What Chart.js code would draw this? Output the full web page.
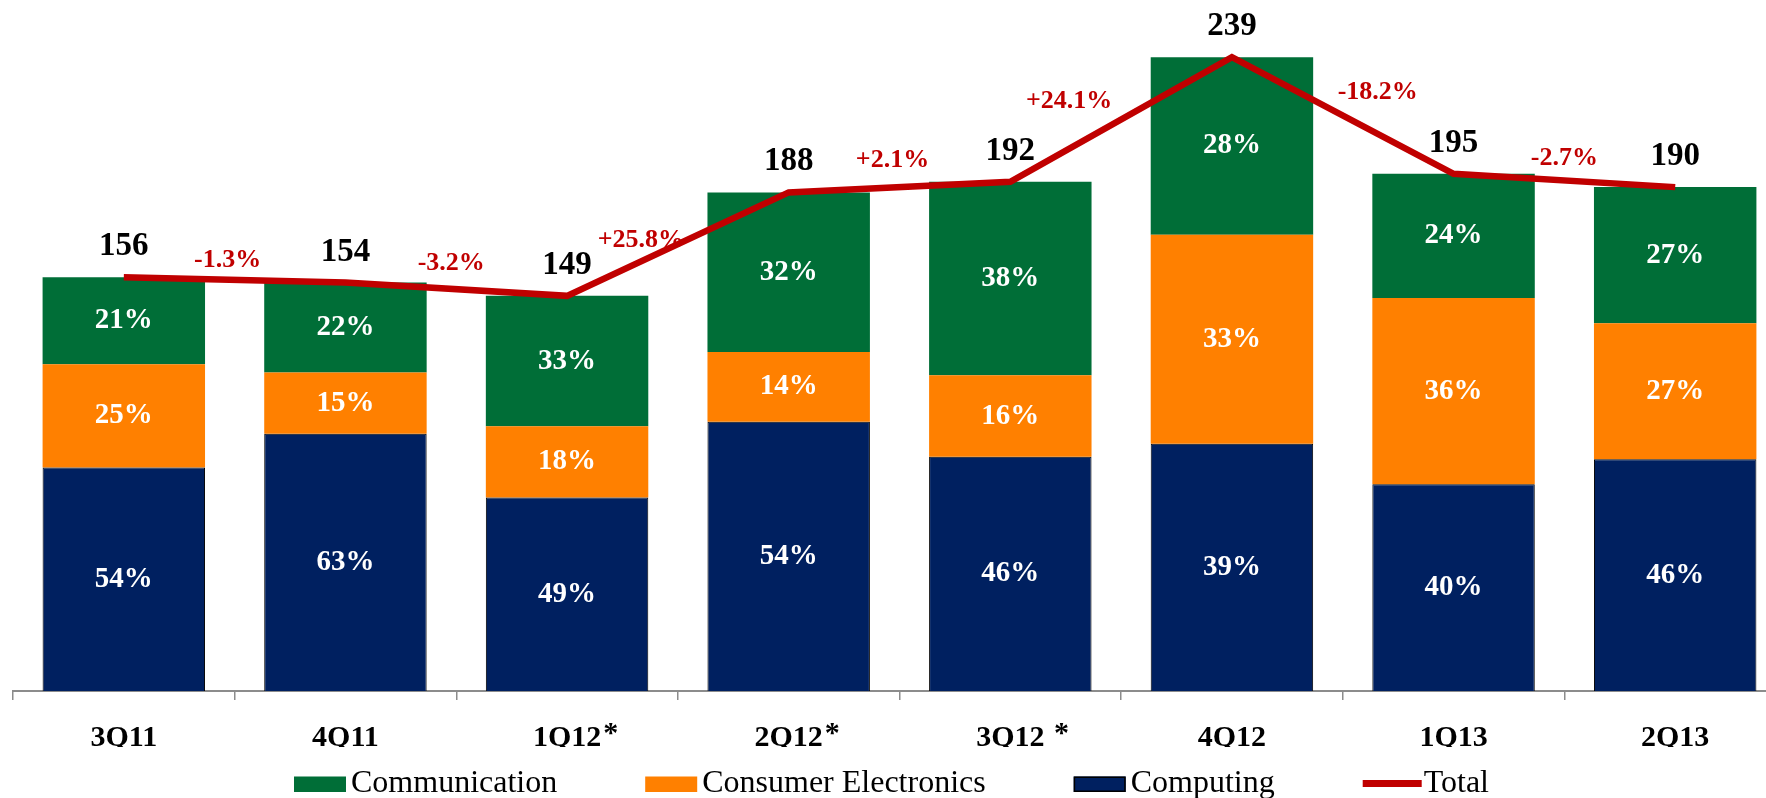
<!DOCTYPE html>
<html>
<head>
<meta charset="utf-8">
<script src="https://cdn.jsdelivr.net/npm/chart.js@4.4.0/dist/chart.umd.min.js"></script>
<style>
html,body{margin:0;padding:0;background:#fff;overflow:hidden;}
#caja{width:1790px;height:798px;}
</style>
</head>
<body>
<div id="caja"><canvas id="myChart" width="1790" height="798"></canvas></div>
<script>

var trimestres = ['3Q11','4Q11','1Q12','2Q12','3Q12','4Q12','1Q13','2Q13'];
var notas = ['','','*','*',' *','','',''];
var totales = [156,154,149,188,192,239,195,190];
var pctComunicacion = [21,22,33,32,38,28,24,27];
var pctConsumo = [25,15,18,14,16,33,36,27];
var pctComputo = [54,63,49,54,46,39,40,46];
var variaciones = ['-1.3%','-3.2%','+25.8%','+2.1%','+24.1%','-18.2%','-2.7%'];

// desplazamiento de las etiquetas rojas respecto al punto medio de cada tramo
var posVariacion = [[-7,-13],[-5,-19],[-37,3],[-7,-20],[-52,-11],[35,-17],[0,-15]];

var verde = '#006E37';
var naranja = '#FF8000';
var azul = '#002060';
var rojo = '#C00000';
var fuente = '"Liberation Serif", "Times New Roman", serif';

function porcion(pct){
    var r = [];
    for(var i=0;i<totales.length;i++){
        r.push(totales[i]*pct[i]/100);
    }
    return r;
}

var etiquetas = {
    id: 'etiquetas',
    afterDraw: function(chart){
        var ctx = chart.ctx;
        var i;
        ctx.save();

        // porcentajes dentro de las barras
        ctx.font = 'bold 29px ' + fuente;
        ctx.fillStyle = '#fff';
        ctx.textAlign = 'center';
        ctx.textBaseline = 'middle';
        var listas = [pctComputo, pctConsumo, pctComunicacion];
        for(var d=0; d<3; d++){
            chart.getDatasetMeta(d).data.forEach(function(bar, j){
                var p = bar.getProps(['x','y','base'], true);
                ctx.fillText(listas[d][j] + '%', p.x, (p.y + p.base)/2);
            });
        }

        // totales
        var linea = chart.getDatasetMeta(3).data;
        ctx.font = 'bold 33px ' + fuente;
        ctx.fillStyle = '#000';
        ctx.textBaseline = 'alphabetic';
        linea.forEach(function(pt, j){
            ctx.fillText(totales[j], pt.x, pt.y - 22);
        });

        // variaciones
        ctx.font = 'bold 26px ' + fuente;
        ctx.fillStyle = rojo;
        for(i=0;i<variaciones.length;i++){
            var a = linea[i], b = linea[i+1];
            ctx.fillText(variaciones[i], (a.x+b.x)/2 + posVariacion[i][0], (a.y+b.y)/2 + posVariacion[i][1]);
        }

        // asteriscos junto a las etiquetas del eje
        var ejeX = chart.scales.x;
        var base = chart.chartArea.bottom + 56;
        ctx.font = 'bold 30px ' + fuente;
        ctx.fillStyle = '#000';
        ctx.textAlign = 'left';
        for(i=0;i<trimestres.length;i++){
            if(notas[i]){
                var w = ctx.measureText(trimestres[i]).width;
                ctx.fillText(notas[i], ejeX.getPixelForValue(i) + w/2 + 2, base - 5);
            }
        }

        // leyenda
        var items = [
            {texto:'Communication', color:verde, tipo:'caja'},
            {texto:'Consumer Electronics', color:naranja, tipo:'caja'},
            {texto:'Computing', color:azul, tipo:'caja', borde:'#000'},
            {texto:'Total', color:rojo, tipo:'linea'}
        ];
        ctx.font = '32px ' + fuente;
        ctx.textBaseline = 'alphabetic';
        var x = 294, y = 792;
        items.forEach(function(it){
            if(it.tipo == 'caja'){
                ctx.fillStyle = it.color;
                ctx.fillRect(x, y - 15.5, 52, 15.5);
                if(it.borde){
                    ctx.strokeStyle = it.borde;
                    ctx.lineWidth = 1.5;
                    ctx.strokeRect(x + 0.75, y - 15.5 + 0.75, 50.5, 14);
                }
                x += 57;
            } else {
                ctx.strokeStyle = it.color;
                ctx.lineWidth = 7;
                ctx.beginPath();
                ctx.moveTo(x, y - 8.5);
                ctx.lineTo(x + 59, y - 8.5);
                ctx.stroke();
                x += 61;
            }
            ctx.fillStyle = '#000';
            ctx.fillText(it.texto, x, y);
            x += ctx.measureText(it.texto).width + 88;
        });

        ctx.restore();
    }
};

var ctx = document.getElementById('myChart');
var chart = new Chart(ctx, {
    type: 'bar',
    data: {
        labels: trimestres,
        datasets: [{
            label: 'Computing',
            data: porcion(pctComputo),
            backgroundColor: azul,
            borderColor: '#000',
            borderWidth: 1,
            stack: 'barras',
            order: 1
        },{
            label: 'Consumer Electronics',
            data: porcion(pctConsumo),
            backgroundColor: naranja,
            borderWidth: 0,
            stack: 'barras',
            order: 1
        },{
            label: 'Communication',
            data: porcion(pctComunicacion),
            backgroundColor: verde,
            borderWidth: 0,
            stack: 'barras',
            order: 1
        },{
            type: 'line',
            label: 'Total',
            data: totales,
            borderColor: rojo,
            backgroundColor: rojo,
            borderWidth: 6.5,
            borderCapStyle: 'butt',
            borderJoinStyle: 'miter',
            pointRadius: 0,
            tension: 0,
            fill: false,
            clip: false,
            stack: 'total',
            order: 0
        }]
    },
    options: {
        responsive: false,
        animation: false,
        devicePixelRatio: 1,
        layout: {
            padding: {left: 13, right: 4, top: 28, bottom: 51}
        },
        datasets: {
            bar: {
                categoryPercentage: 1,
                barPercentage: 0.733
            }
        },
        plugins: {
            legend: {display: false},
            tooltip: {enabled: false}
        },
        scales: {
            x: {
                stacked: true,
                grid: {
                    display: true,
                    drawOnChartArea: false,
                    drawTicks: true,
                    tickLength: 9,
                    color: '#8c8c8c',
                    lineWidth: 1.5,
                    offset: true
                },
                border: {display: true, color: '#8c8c8c', width: 2},
                ticks: {
                    color: '#000',
                    font: {family: fuente, size: 30, weight: 'bold'},
                    padding: 20,
                    maxRotation: 0,
                    autoSkip: false
                },
                afterFit: function(s){ s.height = 56; }
            },
            y: {
                stacked: true,
                display: false,
                min: 0,
                max: 250
            }
        }
    },
    plugins: [etiquetas]
});
</script>
</body>
</html>
